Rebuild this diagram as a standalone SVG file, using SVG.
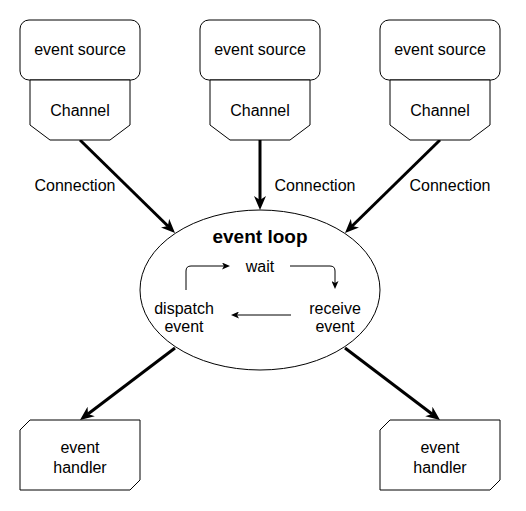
<svg xmlns="http://www.w3.org/2000/svg" width="526" height="511" viewBox="0 0 526 511">
<style>
  .shape { fill: #ffffff; stroke: #000000; stroke-width: 1; }
  .t { font-family: "Liberation Sans", Arial, Helvetica, sans-serif; font-size: 16px; fill: #000000; text-anchor: middle; }
  .b { font-weight: bold; font-size: 19px; }
  .big { fill: none; stroke: #000000; stroke-width: 3; }
  .small { fill: none; stroke: #000000; stroke-width: 1; }
</style>
<defs>
  <marker id="bigArrow" markerUnits="userSpaceOnUse" viewBox="0 0 14 12" markerWidth="14" markerHeight="12" refX="4" refY="6" orient="auto">
    <path d="M0,0 L14,6 L0,12 L4,6 Z" fill="#000000"/>
  </marker>
  <marker id="smallArrow" markerUnits="userSpaceOnUse" viewBox="0 0 8 7" markerWidth="8" markerHeight="7" refX="2" refY="3.5" orient="auto">
    <path d="M0,0 L8,3.5 L0,7 L2,3.5 Z" fill="#000000"/>
  </marker>
</defs>
<rect width="526" height="511" fill="#ffffff"/>

<g id="connectors">
  <line class="big" x1="80" y1="140" x2="167.85" y2="226" marker-end="url(#bigArrow)"/>
  <line class="big" x1="260" y1="140" x2="260" y2="200" marker-end="url(#bigArrow)"/>
  <line class="big" x1="440" y1="140" x2="352.15" y2="226" marker-end="url(#bigArrow)"/>
  <line class="big" x1="175" y1="348" x2="87.97" y2="413.96" marker-end="url(#bigArrow)"/>
  <line class="big" x1="345" y1="348" x2="432.03" y2="413.96" marker-end="url(#bigArrow)"/>
  <text class="t" x="75" y="191">Connection</text>
  <text class="t" x="315" y="191">Connection</text>
  <text class="t" x="450" y="191">Connection</text>
</g>

<g id="source1">
  <rect class="shape" x="20" y="20" width="120" height="60" rx="9" ry="9"/>
  <text class="t" x="80" y="55">event source</text>
</g>
<g id="channel1">
  <path class="shape" d="M30,80 L130,80 L130,125 L110,140 L50,140 L30,125 Z"/>
  <text class="t" x="80" y="115.5">Channel</text>
</g>

<g id="source2">
  <rect class="shape" x="200" y="20" width="120" height="60" rx="9" ry="9"/>
  <text class="t" x="260" y="55">event source</text>
</g>
<g id="channel2">
  <path class="shape" d="M210,80 L310,80 L310,125 L290,140 L230,140 L210,125 Z"/>
  <text class="t" x="260" y="115.5">Channel</text>
</g>

<g id="source3">
  <rect class="shape" x="380" y="20" width="120" height="60" rx="9" ry="9"/>
  <text class="t" x="440" y="55">event source</text>
</g>
<g id="channel3">
  <path class="shape" d="M390,80 L490,80 L490,125 L470,140 L410,140 L390,125 Z"/>
  <text class="t" x="440" y="115.5">Channel</text>
</g>

<g id="eventloop">
  <ellipse class="shape" cx="260" cy="290" rx="120" ry="80"/>
  <text class="t b" x="260" y="243">event loop</text>
  <text class="t" x="260" y="272">wait</text>
  <text class="t" x="335" y="314">receive</text>
  <text class="t" x="335" y="332">event</text>
  <text class="t" x="184" y="314">dispatch</text>
  <text class="t" x="184" y="332">event</text>
  <path class="small" d="M186,290 L186,271 Q186,266 191,266 L224,266" marker-end="url(#smallArrow)"/>
  <path class="small" d="M290,266 L330,266 Q335,266 335,271 L335,283" marker-end="url(#smallArrow)"/>
  <path class="small" d="M291,315 L237,315" marker-end="url(#smallArrow)"/>
</g>

<g id="handler1">
  <path class="shape" d="M30,420 L140,420 L140,480 L130,490 L20,490 L20,430 Z"/>
  <text class="t" x="80" y="453">event</text>
  <text class="t" x="80" y="473">handler</text>
</g>

<g id="handler2">
  <path class="shape" d="M390,420 L500,420 L500,480 L490,490 L380,490 L380,430 Z"/>
  <text class="t" x="440" y="453">event</text>
  <text class="t" x="440" y="473">handler</text>
</g>
</svg>
